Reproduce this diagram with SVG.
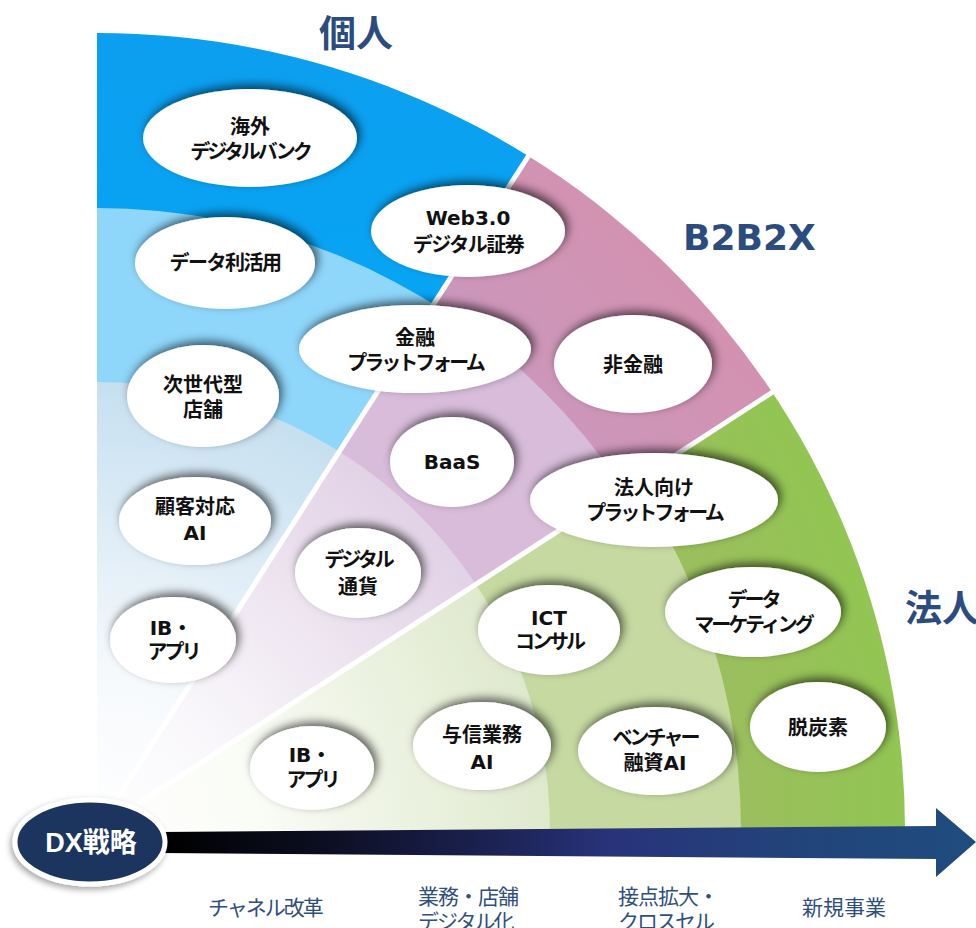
<svg xmlns="http://www.w3.org/2000/svg" width="976" height="928" viewBox="0 0 976 928">
<style>
.n{font-family:"DejaVu Sans","Noto Sans CJK JP",sans-serif;font-weight:700;font-size:20px;fill:#111;text-anchor:middle}
.k{letter-spacing:-3px}
.m{letter-spacing:-1.5px}
.node{fill:#fff;filter:url(#sh)}
.title{font-family:"Noto Sans CJK JP",sans-serif;font-weight:700;font-size:37px;fill:#2b4c7e}
.lat{font-family:"DejaVu Sans",sans-serif;font-weight:700;font-size:36px;fill:#2b4c7e}
.b{font-family:"Noto Sans CJK JP",sans-serif;font-size:21px;fill:#2f4f7e}
.div{stroke:#fff;stroke-width:5;fill:none}
</style>
<defs>
<linearGradient id="gBlueOuter" gradientUnits="userSpaceOnUse" x1="0" y1="33" x2="0" y2="600">
<stop offset="0" stop-color="#0c9eef"/><stop offset="1" stop-color="#02acf9"/>
</linearGradient>
<radialGradient id="gBlueInner" gradientUnits="userSpaceOnUse" cx="97" cy="830" r="453">
<stop offset="0" stop-color="#ffffff"/><stop offset="0.35" stop-color="#f6f9fc"/><stop offset="1" stop-color="#c5dff0"/>
</radialGradient>
<linearGradient id="gPinkOuter" gradientUnits="userSpaceOnUse" x1="450" y1="500" x2="750" y2="250">
<stop offset="0" stop-color="#c69bc2"/><stop offset="1" stop-color="#d68fad"/>
</linearGradient>
<radialGradient id="gPinkInner" gradientUnits="userSpaceOnUse" cx="97" cy="830" r="453">
<stop offset="0" stop-color="#ffffff"/><stop offset="0.35" stop-color="#f8f6fa"/><stop offset="1" stop-color="#e2d2e6"/>
</radialGradient>
<radialGradient id="gGreenOuter" gradientUnits="userSpaceOnUse" cx="97" cy="830" r="808">
<stop offset="0.78" stop-color="#9cbe5f"/><stop offset="1" stop-color="#92c552"/>
</radialGradient>
<radialGradient id="gGreenInner" gradientUnits="userSpaceOnUse" cx="97" cy="830" r="453">
<stop offset="0" stop-color="#ffffff"/><stop offset="0.35" stop-color="#fafcf6"/><stop offset="1" stop-color="#dfe9cd"/>
</radialGradient>
<linearGradient id="gArrow" gradientUnits="userSpaceOnUse" x1="165" y1="0" x2="976" y2="0">
<stop offset="0" stop-color="#000000"/><stop offset="0.2" stop-color="#0c0f22"/><stop offset="0.42" stop-color="#1d2457"/><stop offset="0.55" stop-color="#28337a"/><stop offset="0.78" stop-color="#22447a"/><stop offset="1" stop-color="#1f4c7f"/>
</linearGradient>
<clipPath id="cBlue"><polygon points="97,830 97,-100 692.5,-100"/></clipPath>
<clipPath id="cPink"><polygon points="97,830 692.5,-100 1500,-100 1500,-79.6"/></clipPath>
<clipPath id="cGreen"><polygon points="97,830 1500,-79.6 1500,830"/></clipPath>
<filter id="sh" x="-25%" y="-40%" width="150%" height="180%">
<feGaussianBlur in="SourceAlpha" stdDeviation="5"/>
<feOffset dx="3" dy="-4" result="o"/>
<feFlood flood-color="#000" flood-opacity="0.6"/>
<feComposite in2="o" operator="in"/>
<feMerge><feMergeNode/><feMergeNode in="SourceGraphic"/></feMerge>
</filter>
<filter id="shDX" x="-20%" y="-30%" width="140%" height="160%">
<feGaussianBlur in="SourceAlpha" stdDeviation="3"/>
<feOffset dx="-2" dy="3" result="o"/>
<feFlood flood-color="#000" flood-opacity="0.35"/>
<feComposite in2="o" operator="in"/>
<feMerge><feMergeNode/><feMergeNode in="SourceGraphic"/></feMerge>
</filter>
</defs>
<rect width="976" height="928" fill="#fff"/>

<g id="fan">
<g clip-path="url(#cBlue)">
<ellipse cx="97" cy="830" rx="808" ry="797" fill="url(#gBlueOuter)"/>
<ellipse cx="97" cy="830" rx="630" ry="622" fill="#8ed6fa"/>
<ellipse cx="97" cy="830" rx="453" ry="448" fill="url(#gBlueInner)"/>
</g>
<g clip-path="url(#cPink)">
<ellipse cx="97" cy="830" rx="808" ry="797" fill="url(#gPinkOuter)"/>
<ellipse cx="97" cy="830" rx="630" ry="622" fill="#d8bcda"/>
<ellipse cx="97" cy="830" rx="453" ry="448" fill="url(#gPinkInner)"/>
</g>
<g clip-path="url(#cGreen)">
<ellipse cx="97" cy="830" rx="808" ry="797" fill="url(#gGreenOuter)"/>
<ellipse cx="97" cy="830" rx="644" ry="634" fill="#c5d9a1"/>
<ellipse cx="97" cy="830" rx="453" ry="448" fill="url(#gGreenInner)"/>
</g>
<line class="div" x1="97" y1="830" x2="540" y2="138"/>
<line class="div" x1="97" y1="830" x2="785" y2="384"/>
</g>

<g id="titles">
<text class="title" x="356" y="47" text-anchor="middle">個人</text>
<text class="lat" x="683" y="250">B2B2X</text>
<text class="title" x="905" y="622">法人</text>
</g>

<g id="node-kaigai"><ellipse class="node" cx="250" cy="138" rx="107" ry="49"/>
<text class="n" x="250" y="134">海外</text><text class="n k" x="250" y="159">デジタルバンク</text></g>
<g id="node-data"><ellipse class="node" cx="225" cy="263" rx="90" ry="46"/>
<text class="n m" x="225" y="270">データ利活用</text></g>
<g id="node-web3"><ellipse class="node" cx="468" cy="231" rx="97" ry="46"/>
<text class="n" x="468" y="225">Web3.0</text><text class="n m" x="468" y="252">デジタル証券</text></g>
<g id="node-finplat"><ellipse class="node" cx="415" cy="349" rx="116" ry="44"/>
<text class="n" x="415" y="345">金融</text><text class="n k" x="415" y="370">プラットフォーム</text></g>
<g id="node-nonfin"><ellipse class="node" cx="633" cy="364" rx="79" ry="49"/>
<text class="n" x="633" y="372">非金融</text></g>
<g id="node-store"><ellipse class="node" cx="203" cy="396" rx="76" ry="51"/>
<text class="n" x="203" y="392">次世代型</text><text class="n" x="203" y="417">店舗</text></g>
<g id="node-baas"><ellipse class="node" cx="452" cy="462" rx="62" ry="45"/>
<text class="n" x="452" y="469">BaaS</text></g>
<g id="node-corpplat"><ellipse class="node" cx="654" cy="500" rx="124" ry="47"/>
<text class="n" x="654" y="495">法人向け</text><text class="n k" x="654" y="520">プラットフォーム</text></g>
<g id="node-custai"><ellipse class="node" cx="195" cy="521" rx="76" ry="44"/>
<text class="n" x="195" y="514">顧客対応</text><text class="n" x="195" y="540">AI</text></g>
<g id="node-dcurrency"><ellipse class="node" cx="358" cy="573" rx="63" ry="45"/>
<text class="n k" x="358" y="567">デジタル</text><text class="n" x="358" y="594">通貨</text></g>
<g id="node-ict"><ellipse class="node" cx="549" cy="630" rx="71" ry="45"/>
<text class="n" x="549" y="625">ICT</text><text class="n k" x="549" y="649">コンサル</text></g>
<g id="node-marketing"><ellipse class="node" cx="753" cy="612" rx="88" ry="45"/>
<text class="n k" x="753" y="607">データ</text><text class="n k" x="753" y="632">マーケティング</text></g>
<g id="node-ib1"><ellipse class="node" cx="173" cy="640" rx="63" ry="43"/>
<text class="n" x="171" y="635">IB・</text><text class="n k" x="173" y="659">アプリ</text></g>
<g id="node-decarb"><ellipse class="node" cx="818" cy="727" rx="68" ry="45"/>
<text class="n" x="818" y="735">脱炭素</text></g>
<g id="node-credit"><ellipse class="node" cx="482" cy="746" rx="69" ry="44"/>
<text class="n" x="482" y="742">与信業務</text><text class="n" x="482" y="769">AI</text></g>
<g id="node-venture"><ellipse class="node" cx="655" cy="751" rx="77" ry="44"/>
<text class="n k" x="655" y="745">ベンチャー</text><text class="n" x="655" y="770">融資AI</text></g>
<g id="node-ib2"><ellipse class="node" cx="312" cy="768" rx="62" ry="42"/>
<text class="n" x="310" y="762">IB・</text><text class="n k" x="312" y="787">アプリ</text></g>

<g id="connectors">
<polygon points="160,832 936,826 936,808 976,842 936,877 936,859 160,853" fill="url(#gArrow)"/>
</g>

<g id="node-dx">
<ellipse cx="90" cy="842" rx="75" ry="42" fill="#1b365e" stroke="#fff" stroke-width="5" filter="url(#shDX)"/>
<text x="91" y="852" text-anchor="middle" font-family="Liberation Sans, Noto Sans CJK JP, sans-serif" font-weight="700" font-size="27" fill="#fff">DX戦略</text>
</g>

<g id="labels">
<text class="b" x="208" y="915" letter-spacing="-2">チャネル改革</text>
<text class="b" x="418" y="904" letter-spacing="-1">業務・店舗</text>
<text class="b" x="418" y="929" letter-spacing="-2">デジタル化</text>
<text class="b" x="618" y="904" letter-spacing="-1">接点拡大・</text>
<text class="b" x="618" y="929" letter-spacing="-2">クロスセル</text>
<text class="b" x="802" y="915">新規事業</text>
</g>
</svg>
